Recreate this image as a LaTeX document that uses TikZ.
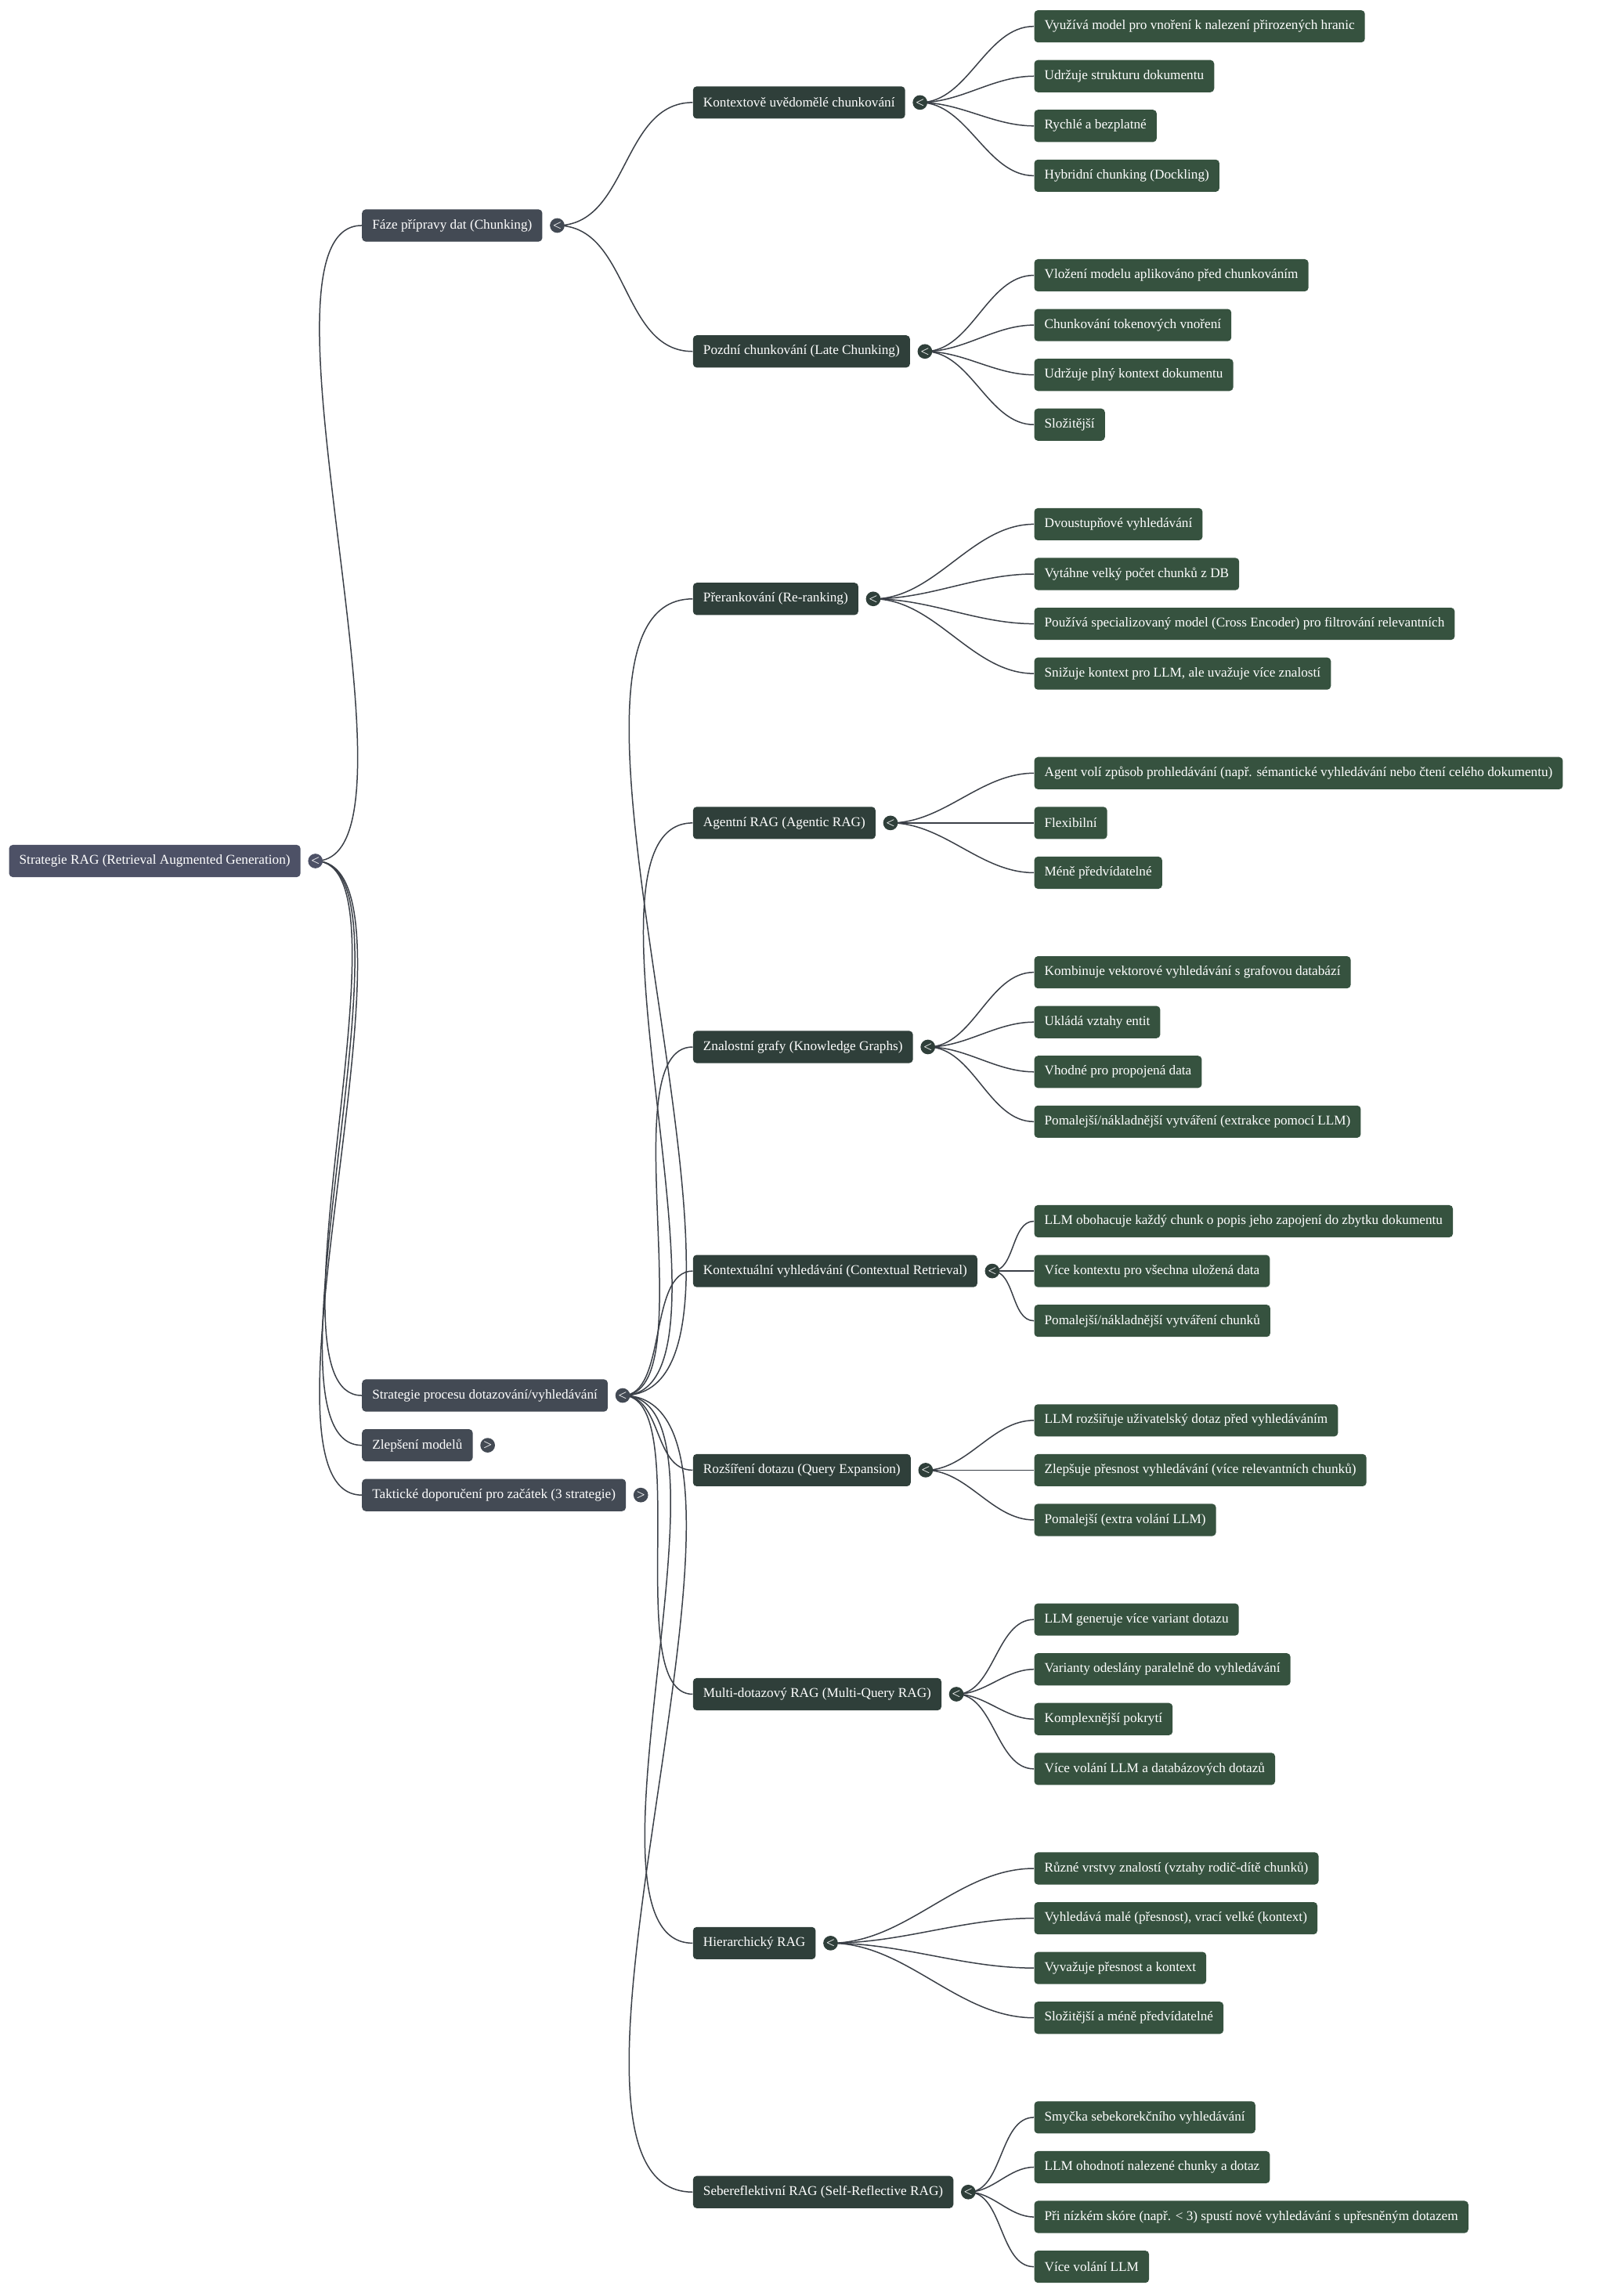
\documentclass[tikz,border=0pt]{standalone}
\usepackage{fontspec}
\setmainfont{Liberation Serif}
\usetikzlibrary{backgrounds}
\definecolor{cRoot}{HTML}{4D5166}
\definecolor{cOne}{HTML}{434A54}
\definecolor{cTwo}{HTML}{2F3F3A}
\definecolor{cLeaf}{HTML}{36523F}
\definecolor{cEdge}{HTML}{3A3F47}
\tikzset{
 box/.style={anchor=west,rounded corners=2.5pt,minimum height=22pt,inner xsep=7pt,text=white,font=\fontsize{9.2}{11}\selectfont},
 root/.style={box,fill=cRoot},
 one/.style={box,fill=cOne},
 two/.style={box,fill=cTwo},
 leaf/.style={box,fill=cLeaf},
 tog/.style={circle,inner sep=0pt,minimum size=10pt,text=white,font=\fontsize{7}{7}\bfseries\sffamily},
 edge/.style={draw=cEdge,line width=0.8pt},
}
\newcommand{\tg}[4]{\node[tog,fill=#3] (#1-c) at ([xshift=10pt]#1.east) {#4};}
\newcommand{\lf}[4]{\node[leaf] (#1) at (706,#2) {#3};
 \begin{pgfonlayer}{background}\draw[edge] (#4-c.center) to[out=0,in=180,looseness=0.9] (#1.west);\end{pgfonlayer}}
\newcommand{\tw}[5]{\node[two] (#1) at (473,#2) {#3};\tg{#1}{}{cTwo}{<}
 \begin{pgfonlayer}{background}\draw[edge] (#4-c.center) to[out=0,in=180,looseness=#5] (#1.west);\end{pgfonlayer}}
\begin{document}
\begin{tikzpicture}[x=1pt,y=-1pt]
\useasboundingbox (0,0) rectangle (1095,1568);
\node[root] (r) at (6,588) {Strategie RAG (Retrieval Augmented Generation)};\tg{r}{}{cRoot}{<}
\node[one] (f) at (247,154) {Fáze přípravy dat (Chunking)};\tg{f}{}{cOne}{<}
\node[one] (s) at (247,953) {Strategie procesu dotazování/vyhledávání};\tg{s}{}{cOne}{<}
\node[one] (z) at (247,987) {Zlepšení modelů};\tg{z}{}{cOne}{>}
\node[one] (t) at (247,1021) {Taktické doporučení pro začátek (3 strategie)};\tg{t}{}{cOne}{>}
\begin{pgfonlayer}{background}
\foreach \n in {f,s,z,t} \draw[edge] (r-c.center) to[out=0,in=180,looseness=0.5] (\n.west);
\end{pgfonlayer}
\tw{a}{70}{Kontextově uvědomělé chunkování}{f}{1}
\lf{a1}{18}{Využívá model pro vnoření k nalezení přirozených hranic}{a}
\lf{a2}{52}{Udržuje strukturu dokumentu}{a}
\lf{a3}{86}{Rychlé a bezplatné}{a}
\lf{a4}{120}{Hybridní chunking (Dockling)}{a}
\tw{b}{240}{Pozdní chunkování (Late Chunking)}{f}{1}
\lf{b1}{188}{Vložení modelu aplikováno před chunkováním}{b}
\lf{b2}{222}{Chunkování tokenových vnoření}{b}
\lf{b3}{256}{Udržuje plný kontext dokumentu}{b}
\lf{b4}{290}{Složitější}{b}
\tw{c}{409}{Přerankování (Re-ranking)}{s}{0.6}
\lf{c1}{358}{Dvoustupňové vyhledávání}{c}
\lf{c2}{392}{Vytáhne velký počet chunků z DB}{c}
\lf{c3}{426}{Používá specializovaný model (Cross Encoder) pro filtrování relevantních}{c}
\lf{c4}{460}{Snižuje kontext pro LLM, ale uvažuje více znalostí}{c}
\tw{d}{562}{Agentní RAG (Agentic RAG)}{s}{0.6}
\lf{d1}{528}{Agent volí způsob prohledávání (např. sémantické vyhledávání nebo čtení celého dokumentu)}{d}
\lf{d2}{562}{Flexibilní}{d}
\lf{d3}{596}{Méně předvídatelné}{d}
\tw{e}{715}{Znalostní grafy (Knowledge Graphs)}{s}{0.6}
\lf{e1}{664}{Kombinuje vektorové vyhledávání s grafovou databází}{e}
\lf{e2}{698}{Ukládá vztahy entit}{e}
\lf{e3}{732}{Vhodné pro propojená data}{e}
\lf{e4}{766}{Pomalejší/nákladnější vytváření (extrakce pomocí LLM)}{e}
\tw{g}{868}{Kontextuální vyhledávání (Contextual Retrieval)}{s}{0.8}
\lf{g1}{834}{LLM obohacuje každý chunk o popis jeho zapojení do zbytku dokumentu}{g}
\lf{g2}{868}{Více kontextu pro všechna uložená data}{g}
\lf{g3}{902}{Pomalejší/nákladnější vytváření chunků}{g}
\tw{h}{1004}{Rozšíření dotazu (Query Expansion)}{s}{1}
\lf{h1}{970}{LLM rozšiřuje uživatelský dotaz před vyhledáváním}{h}
\lf{h2}{1004}{Zlepšuje přesnost vyhledávání (více relevantních chunků)}{h}
\lf{h3}{1038}{Pomalejší (extra volání LLM)}{h}
\tw{i}{1157}{Multi-dotazový RAG (Multi-Query RAG)}{s}{0.6}
\lf{i1}{1106}{LLM generuje více variant dotazu}{i}
\lf{i2}{1140}{Varianty odeslány paralelně do vyhledávání}{i}
\lf{i3}{1174}{Komplexnější pokrytí}{i}
\lf{i4}{1208}{Více volání LLM a databázových dotazů}{i}
\tw{j}{1327}{Hierarchický RAG}{s}{0.6}
\lf{j1}{1276}{Různé vrstvy znalostí (vztahy rodič-dítě chunků)}{j}
\lf{j2}{1310}{Vyhledává malé (přesnost), vrací velké (kontext)}{j}
\lf{j3}{1344}{Vyvažuje přesnost a kontext}{j}
\lf{j4}{1378}{Složitější a méně předvídatelné}{j}
\tw{k}{1497}{Sebereflektivní RAG (Self-Reflective RAG)}{s}{0.6}
\lf{k1}{1446}{Smyčka sebekorekčního vyhledávání}{k}
\lf{k2}{1480}{LLM ohodnotí nalezené chunky a dotaz}{k}
\lf{k3}{1514}{Při nízkém skóre (např. < 3) spustí nové vyhledávání s upřesněným dotazem}{k}
\lf{k4}{1548}{Více volání LLM}{k}
\end{tikzpicture}
\end{document}
